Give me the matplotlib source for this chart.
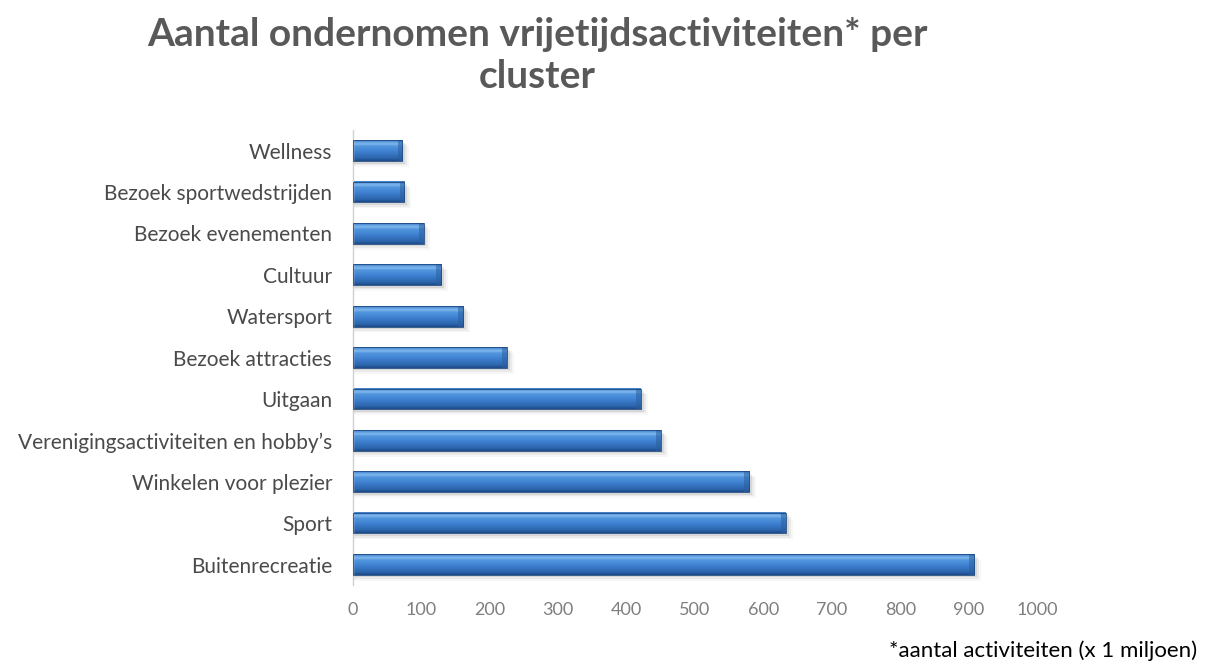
import numpy as np
import matplotlib
matplotlib.use("Agg")
import matplotlib.pyplot as plt
from matplotlib.colors import LinearSegmentedColormap
from matplotlib.patches import Rectangle

# Data (bottom to top as drawn)
categories = ["Buitenrecreatie", "Sport", "Winkelen voor plezier",
              "Verenigingsactiviteiten en hobby\u2019s", "Uitgaan", "Bezoek attracties",
              "Watersport", "Cultuur", "Bezoek evenementen",
              "Bezoek sportwedstrijden", "Wellness"]
values = [908, 633, 579, 450, 421, 225, 161, 129, 103, 75, 72]
xticks = [0, 100, 200, 300, 400, 500, 600, 700, 800, 900, 1000]

title = "Aantal ondernomen vrijetijdsactiviteiten* per\ncluster"
footnote = "*aantal activiteiten (x 1 miljoen)"

fig = plt.figure(figsize=(12.07, 6.65), dpi=100)
ax = fig.add_axes([0.2925, 0.12, 0.5667, 0.6845])

y = np.arange(len(categories))
bars = ax.barh(y, values, height=0.5, color="none", edgecolor="none")

# gradient (bottom -> top of bar)
cmap = LinearSegmentedColormap.from_list(
    "bev", [(0.0, "#1d4a86"), (0.12, "#2b64ab"), (0.45, "#3e80d0"),
            (0.72, "#5296de"), (0.82, "#82b8ee"), (0.9, "#62a1e4"),
            (1.0, "#3f7bc5")])
grad = np.linspace(0, 1, 64).reshape(-1, 1)

for b in bars:
    x0, y0 = b.get_x(), b.get_y()
    w, h = b.get_width(), b.get_height()
    # soft shadow
    for k, a in enumerate([0.10, 0.07, 0.04]):
        off = 0.06 + k * 0.04
        ax.add_patch(Rectangle((x0, y0 - off), w + 4 + k * 3, h, color="#404040",
                               alpha=a, lw=0, zorder=1))
    ax.imshow(grad, cmap=cmap, origin="lower", aspect="auto",
              extent=(x0, x0 + w, y0, y0 + h), zorder=2,
              interpolation="bilinear")
    # end cap bevel
    cap = min(7, w * 0.15)
    ax.add_patch(Rectangle((x0 + w - cap, y0), cap, h, color="#2c5f9e",
                           alpha=0.55, lw=0, zorder=3))
    ax.add_patch(Rectangle((x0, y0), w, h, fill=False, edgecolor="#1f4a80",
                           lw=0.6, zorder=4))

ax.set_xlim(0, 1000)
ax.set_ylim(-0.5, len(categories) - 0.5)

ax.set_yticks(y)
ax.set_yticklabels(categories, fontsize=15, color="#4a4a4a", family="Lato")
ax.set_xticks(xticks)
ax.set_xticklabels([str(t) for t in xticks], fontsize=13, color="#7f7f7f",
                   family="Lato")
ax.tick_params(axis="both", length=0)
ax.tick_params(axis="y", pad=15)
ax.tick_params(axis="x", pad=12)

for s in ["top", "right", "bottom"]:
    ax.spines[s].set_visible(False)
ax.spines["left"].set_color("#d0d0d0")
ax.spines["left"].set_linewidth(1.0)

fig.text(0.445, 0.917, title, ha="center", va="center", fontsize=28,
         fontweight="bold", color="#595959", family="Lato",
         linespacing=1.25)
fig.text(0.992, 0.006, footnote, ha="right", va="bottom", fontsize=16,
         color="#000000", family="Lato")

fig.savefig("out.png", dpi=100)
